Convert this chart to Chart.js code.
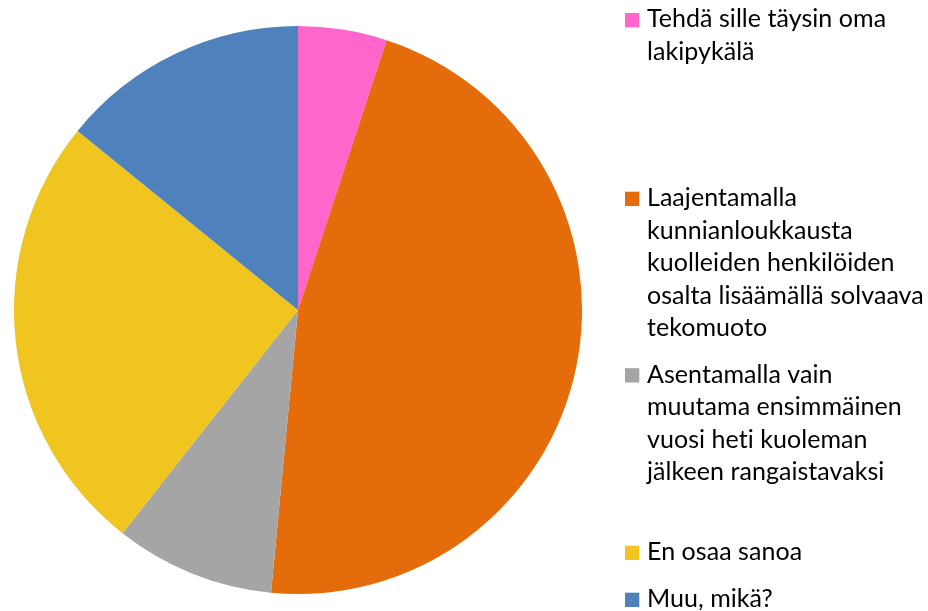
<!DOCTYPE html>
<html>
<head>
<meta charset="utf-8">
<script src="https://cdn.jsdelivr.net/npm/chart.js@4/dist/chart.umd.min.js"></script>
<style>
html,body{margin:0;padding:0;background:#fff;}
#wrap{position:relative;width:928px;height:611px;}
</style>
</head>
<body>
<div id="wrap"><canvas id="c" width="928" height="611"></canvas></div>
<script>
const categories = [
  "Tehdä sille täysin oma lakipykälä",
  "Laajentamalla kunnianloukkausta kuolleiden henkilöiden osalta lisäämällä solvaava tekomuoto",
  "Asentamalla vain muutama ensimmäinen vuosi heti kuoleman jälkeen rangaistavaksi",
  "En osaa sanoa",
  "Muu, mikä?"
];
const legendLines = [
  ["Tehdä sille täysin oma", "lakipykälä"],
  ["Laajentamalla", "kunnianloukkausta", "kuolleiden henkilöiden", "osalta lisäämällä solvaava", "tekomuoto"],
  ["Asentamalla vain", "muutama ensimmäinen", "vuosi heti kuoleman", "jälkeen rangaistavaksi"],
  ["En osaa sanoa"],
  ["Muu, mikä?"]
];
const values = [10, 92, 18, 50, 28];
const colors = ["#FF66CC", "#E46C0A", "#A5A5A5", "#F0C51F", "#4F81BD"];

const legendFirstBaselines = [27.3, 206, 382.5, 560, 607];
const legendLineHeight = 32.6;

const legendPlugin = {
  id: 'customLegend',
  afterDraw(chart) {
    const ctx = chart.ctx;
    ctx.save();
    ctx.font = '25px Lato, "Open Sans", sans-serif';
    if ('letterSpacing' in ctx) ctx.letterSpacing = '0.05px';
    ctx.textBaseline = 'alphabetic';
    ctx.textAlign = 'left';
    legendLines.forEach((lines, i) => {
      const base = legendFirstBaselines[i];
      ctx.fillStyle = colors[i];
      ctx.fillRect(625, base - 14.3, 14.3, 14.3);
      ctx.fillStyle = '#000';
      lines.forEach((ln, j) => {
        ctx.fillText(ln, 647, base + j * legendLineHeight);
      });
    });
    ctx.restore();
  }
};

new Chart(document.getElementById('c'), {
  type: 'pie',
  data: {
    labels: categories,
    datasets: [{
      data: values,
      backgroundColor: colors,
      borderWidth: 0
    }]
  },
  options: {
    responsive: false,
    animation: false,
    layout: { padding: { left: 14, right: 346, top: 26, bottom: 17 } },
    plugins: {
      legend: { display: false },
      tooltip: { enabled: false }
    }
  },
  plugins: [legendPlugin]
});
</script>
</body>
</html>
